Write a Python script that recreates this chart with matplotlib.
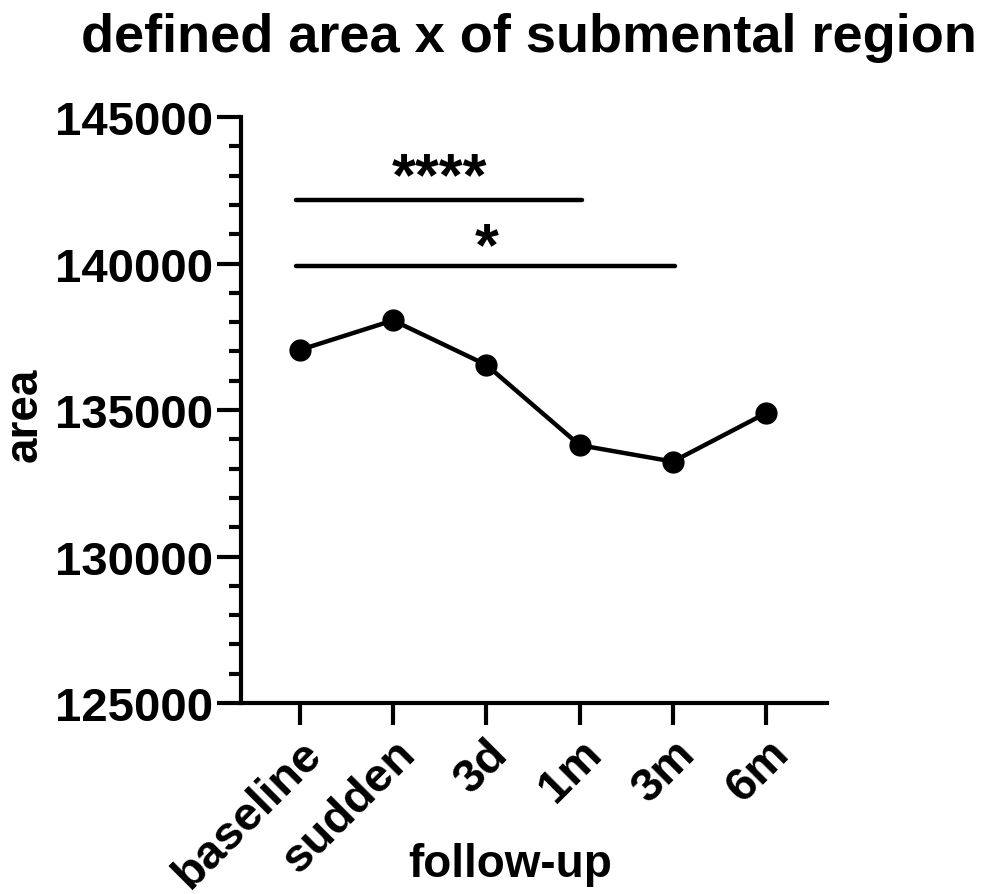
import matplotlib.pyplot as plt
from matplotlib.ticker import MultipleLocator

plt.rcParams['font.family'] = ['Liberation Sans', 'DejaVu Sans']
plt.rcParams['font.weight'] = 'bold'

categories = ['baseline', 'sudden', '3d', '1m', '3m', '6m']
area = [137050, 138060, 136540, 133800, 133240, 134900]

# significance brackets: (start index, end index, height, star height, label)
sig_pairs = [(0, 3, 142160, 142900, '****'), (0, 4, 139910, 140500, '*')]

fig = plt.figure(figsize=(9.93, 8.95), dpi=100)
ax = fig.add_axes([0.2427, 0.2134, 0.590, 0.6547])

x = list(range(len(categories)))
ax.plot(x, area, color='black', lw=3.2, marker='o', ms=15, zorder=3)

for i0, i1, h, hs, lab in sig_pairs:
    ax.plot([x[i0] - 0.04, x[i1] + 0.02], [h, h], color='black', lw=3.2,
            solid_capstyle='round')
    ax.text((x[i0] + x[i1]) / 2, hs, lab, ha='center', va='center',
            fontsize=44, fontweight='bold')

ax.set_xlim(-0.63, 5.65)
ax.set_ylim(125000, 145000)
ax.yaxis.set_major_locator(MultipleLocator(5000))
ax.yaxis.set_minor_locator(MultipleLocator(1000))
ax.set_xticks(x)
ax.set_xticklabels(categories, rotation=45, ha='right', rotation_mode='anchor')

for s in ['top', 'right']:
    ax.spines[s].set_visible(False)
for s in ['left', 'bottom']:
    ax.spines[s].set_linewidth(3)

ax.tick_params(axis='both', which='major', width=3, length=17, labelsize=34, pad=3)
ax.tick_params(axis='y', which='minor', width=3, length=9)
ax.tick_params(axis='x', which='major', length=16, pad=4)

fig.text(25 / 993, 1 - 415 / 895, 'area', rotation=90, ha='center', va='center',
         fontsize=33, fontweight='bold')
fig.text(510 / 993, 1 - 865 / 895, 'follow-up', ha='center', va='center',
         fontsize=33, fontweight='bold')
fig.text(0.5325, 0.958, 'defined area x of submental region', ha='center',
         va='center', fontsize=39, fontweight='bold')

fig.savefig('out.png', dpi=100)
